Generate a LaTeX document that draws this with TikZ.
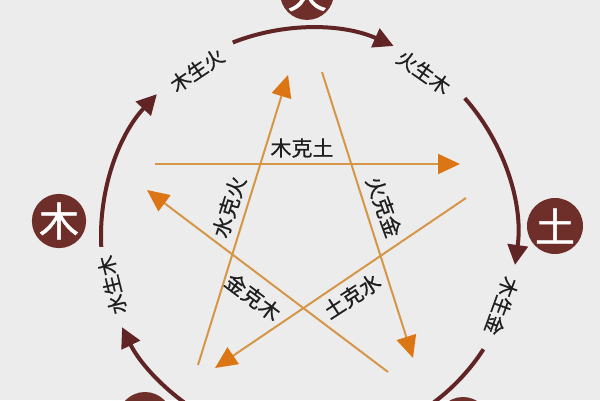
\documentclass[tikz,border=0pt]{standalone}
\usepackage{fontspec}
\newfontfamily\cjk[FakeBold=0.6]{Noto Sans CJK SC}
\newfontfamily\cjkel[FakeBold=1.2]{Noto Sans CJK SC}
\usetikzlibrary{arrows.meta,calc}
\definecolor{bg}{RGB}{236,236,236}
\definecolor{elem}{RGB}{110,46,42}
\definecolor{arcc}{RGB}{96,36,36}
\definecolor{orl}{RGB}{214,150,72}
\definecolor{ort}{RGB}{220,118,20}
\definecolor{txt}{RGB}{30,30,30}
\begin{document}
\begin{tikzpicture}[x=1pt,y=1pt,
  elemnode/.style={circle,fill=elem,minimum size=54pt,inner sep=0pt,text=white,font=\cjkel\fontsize{40}{40}\selectfont},
  cycarc/.style={draw=arcc,line width=4pt,-{Triangle[length=20pt,width=20pt]}},
  cycplain/.style={draw=arcc,line width=4pt},
  kearrow/.style={draw=orl,line width=2pt,-{Triangle[length=22pt,width=20pt,color=ort]}},
  lbl/.style={text=txt,font=\cjk\fontsize{20}{20}\selectfont,inner sep=0pt},
  kelbl/.style={lbl,font=\cjk\fontsize{21}{21}\selectfont}]
\useasboundingbox (0,0) rectangle (600,400);
\fill[bg] (0,0) rectangle (600,400);
\clip (0,0) rectangle (600,400);
\coordinate (C) at (309,164);
% cycle arcs
\coordinate (s1) at ($(C)+(240:208pt)$);
\coordinate (s2) at ($(C)+(183:208pt)$);
\coordinate (s3) at ($(C)+(111.5:208pt)$);
\coordinate (s4) at ($(C)+(41.5:208pt)$);
\coordinate (s5) at ($(C)+(-33:208pt)$);
\draw[cycarc] (s1) arc[start angle=240,end angle=206,radius=208pt];
\draw[cycarc] (s2) arc[start angle=183,end angle=137,radius=208pt];
\draw[cycarc] (s3) arc[start angle=111.5,end angle=66,radius=208pt];
\draw[cycarc] (s4) arc[start angle=41.5,end angle=-8,radius=208pt];
\draw[cycplain] (s5) arc[start angle=-33,end angle=-62,radius=208pt];
% cycle labels
\node[lbl,rotate=104] (l1) at ($(C)+(194:203pt)$) {水生木};
\node[lbl,rotate=34] (l2) at ($(C)+(124:200pt)$) {木生火};
\node[lbl,rotate=-35] (l3) at ($(C)+(55:200pt)$) {火生木};
\node[lbl,rotate=-110] (l4) at ($(C)+(-20:205pt)$) {木生金};
% star
\coordinate (h1) at (155,236); \coordinate (h2) at (460,236);
\coordinate (a1) at (198,35);  \coordinate (a2) at (288,325);
\coordinate (b1) at (322,328); \coordinate (b2) at (413,42);
\coordinate (c1) at (466,202); \coordinate (c2) at (215,32);
\coordinate (d1) at (388,28);  \coordinate (d2) at (147,210);
\draw[kearrow] (h1) -- (h2);
\draw[kearrow] (a1) -- (a2);
\draw[kearrow] (b1) -- (b2);
\draw[kearrow] (c1) -- (c2);
\draw[kearrow] (d1) -- (d2);
\node[kelbl] (k1) at (302,252) {木克土};
\node[kelbl,rotate=72] (k2) at (229,193) {水克火};
\node[kelbl,rotate=-70] (k3) at (384,193) {火克金};
\node[kelbl,rotate=33] (k4) at (352,104) {土克水};
\node[kelbl,rotate=-37] (k5) at (253,103) {金克木};
% elements
\node[elemnode,minimum size=50pt] (huo) at (307,407) {火};
\node[elemnode] (mu) at (59,179) {木};
\node[elemnode,minimum size=56pt] (tu) at (555,174) {土};
\node[elemnode] (shui) at (145,-19) {};
\node[elemnode] (jin) at (463,-24) {};
\end{tikzpicture}
\end{document}
